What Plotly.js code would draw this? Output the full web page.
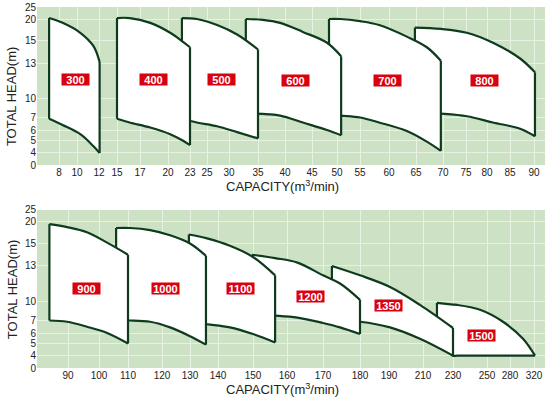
<!DOCTYPE html>
<html><head><meta charset="utf-8">
<script src="https://cdn.plot.ly/plotly-3.0.1.min.js"></script>
<style>html,body{margin:0;padding:0;background:#fff}#chart{width:550px;height:398px}</style>
</head><body><div id="chart"></div>
<script>
// ---- printed (non-uniform) axis ticks ----
const topCapTicks = [8,10,12,15,17,20,23,25,30,35,40,45,50,55,60,65,70,75,80,85,90];
const botCapTicks = [90,100,110,120,130,140,150,160,170,180,190,210,230,250,280,320];
const headTicks   = [0,4,5,6,7,10,13,15,20,25];
// scale definition: where each printed tick sits along its axis (axis units)
const topTickPos  = [22,40,62,80,103,131,153,170,192,221,248,275,300,323,352,379,406,429,450,473,497];
const botTickPos  = [31,62,91,125,153,181,216,250,286,323,352,386,416,450,473,497];
const headTickPos = [0,13,24.5,35,47.5,67,102,124.5,146,158];

// ---- pump ranges: capacity (m3/min), max head and min head (m) ----
const topModels = ['300','400','500','600','700','800'];
const topQ = [
  [6.9,8.4,10.3,11.5,12.1],
  [15,16.1,18.1,20.3,22,23],
  [21.9,23.8,27.3,31.4,35],
  [32.9,35.9,39.1,43.3,48,50.9],
  [48.4,50.7,55,58.3,63.3,67,69.6],
  [64.8,69.6,75.2,81.3,87.1,90.2]
];
const topHmax = [
  [20.4,19.1,16.8,14.5,13.1],
  [20.4,20.4,19.1,16.8,14.9,14.4],
  [20.4,20,18.6,16.4,14.2],
  [20,19.8,19.1,17,14.8,13.6],
  [20,20,19.5,18.6,15.9,14.4,13.2],
  [18,17.7,16.8,14.8,13.4,12.2]
];
const topHmin = [
  [6.9,6.4,5.6,4.5,3.7],
  [6.9,6.6,6.2,5.6,5.0,4.6],
  [6.9,6.6,6.3,5.8,5.2],
  [7.6,7.55,7.3,6.6,6.0,5.5],
  [7.5,7.3,7.0,6.6,5.9,4.9,4.1],
  [7.8,7.6,7.2,6.6,6.1,5.4]
];
const topLabelQ = [9.8,18.4,28.2,42,59.8,79.3];
const topLabelH = [11.55,11.55,11.55,11.5,11.5,11.5];

const botModels = ['900','1000','1100','1200','1350','1500'];
const botQ = [
  [84,89.7,96.1,102.8,110],
  [105.9,110.6,116.5,122.9,130,135.7],
  [129.6,136.1,143.4,150,156.5],
  [149.7,156.5,162.9,170,174.6,180],
  [172.4,180,190.6,208.2,230],
  [219.3,230,232.4,245.9,270.9,301.7,321.7]
];
const botHmax = [
  [19.5,18.8,17.6,15.2,14.0],
  [18.6,18.6,18.1,16.9,15,13.9],
  [17.1,16.2,14.8,13.8,12.2],
  [14.0,13.7,13.3,12.2,11.5,10.1],
  [13,12.2,11.2,9.4,6.4],
  [9.7,9.45,9.4,8.65,6.9,5.45,3.8]
];
const botHmin = [
  [7,6.9,6.5,6,5],
  [7,7,6.9,6.45,5.7,4.9],
  [6.9,6.7,6.45,5.9,5.1],
  [7.9,7.75,7.45,6.8,6.45,5.9],
  [7,6.9,6.45,5.45,3.8],
  [5.8,3.8,3.8,3.8,3.8,3.8,3.8]
];
const botLabelQ = [96.1,121.1,146.3,166.4,189.7,247];
const botLabelH = [11.1,11.1,11.1,10.4,9.25,5.8];

// ---- piecewise-linear printed scale ----
function piece(v, ticks, pos){
  let i = 0;
  if (v <= ticks[0]) i = 0;
  else if (v >= ticks[ticks.length-1]) i = ticks.length-2;
  else { while (!(v >= ticks[i] && v <= ticks[i+1])) i++; }
  const t = (v - ticks[i])/(ticks[i+1]-ticks[i]);
  return pos[i] + t*(pos[i+1]-pos[i]);
}
const mapTop = v => piece(v, topCapTicks, topTickPos);
const mapBot = v => piece(v, botCapTicks, botTickPos);
const mapH = v => piece(v, headTicks, headTickPos);

const EDGE = '#0e3b1d', FILL = '#ffffff', RED = '#d9000f';
const FONT = 'Liberation Sans, Arial, sans-serif';
const traces = [], annotations = [];

function addPanel(models, Q, Hmax, Hmin, LQ, LH, mapX, xa, ya){
  for (let k = models.length-1; k >= 0; k--){
    const xs = Q[k].map(mapX), hi = Hmax[k].map(mapH), lo = Hmin[k].map(mapH);
    const n = xs.length;
    traces.push({type:'scatter', mode:'lines', xaxis:xa, yaxis:ya, hoverinfo:'skip',
      x: xs.concat(xs.slice().reverse(), [xs[0]]),
      y: hi.concat(lo.slice().reverse(), [hi[0]]),
      fill:'toself', fillcolor:FILL, line:{width:0, color:FILL}});
    traces.push({type:'scatter', mode:'lines', xaxis:xa, yaxis:ya, hoverinfo:'skip',
      x: xs.concat([null, xs[n-1], xs[n-1], null], xs, [null, xs[0], xs[0]]),
      y: hi.concat([null, hi[n-1], lo[n-1], null], lo, [null, hi[0], lo[0]]),
      line:{color:EDGE, width:2.2, shape:'spline', smoothing:1}, connectgaps:false});
  }
  models.forEach((m,k)=>{
    annotations.push({xref:xa, yref:ya, x:mapX(LQ[k]), y:mapH(LH[k]), text:'<b>'+m+'</b>',
      showarrow:false, bgcolor:RED, width:27, height:11, borderpad:0,
      font:{family:FONT, size:11, color:'#ffffff'}});
  });
}
addPanel(topModels, topQ, topHmax, topHmin, topLabelQ, topLabelH, mapTop, 'x', 'y');
addPanel(botModels, botQ, botHmax, botHmin, botLabelQ, botLabelH, mapBot, 'x2', 'y2');

// axis titles
const ytxt = 'TOTAL HEAD(m)', xtxt = 'CAPACITY(m<sup>3</sup>/min)';
[[0.7507],[0.216]].forEach(([yy])=>annotations.push({xref:'paper', yref:'paper', x:-0.049, y:yy,
  text:ytxt, textangle:-90, showarrow:false, xanchor:'center', yanchor:'middle',
  font:{family:FONT, size:13, color:'#222'}}));
[[0.504],[-0.058]].forEach(([yy])=>annotations.push({xref:'paper', yref:'paper', x:0.484, y:yy,
  text:xtxt, showarrow:false, xanchor:'center', yanchor:'middle',
  font:{family:FONT, size:13, color:'#222'}}));

const GRID = '#e8f2e3';
function xax(ticks, mapX, anchor){
  return {domain:[0,1], range:[0,508], anchor:anchor, tickmode:'array',
    tickvals: ticks.map(mapX), ticktext: ticks.map(String),
    showgrid:true, gridcolor:GRID, gridwidth:1, zeroline:false, showline:false,
    ticks:'', tickfont:{family:FONT, size:10, color:'#222'}, fixedrange:true};
}
function yax(domain, anchor){
  return {domain:domain, range:[0,158], anchor:anchor, tickmode:'array',
    tickvals: headTicks.map(mapH), ticktext: headTicks.map(String),
    showgrid:true, gridcolor:GRID, gridwidth:1, zeroline:false, showline:false,
    ticks:'', tickfont:{family:FONT, size:10, color:'#222'}, fixedrange:true};
}
const layout = {
  width:550, height:398, margin:{l:37, r:5, t:7, b:30},
  paper_bgcolor:'#ffffff', plot_bgcolor:'#cde2c5', showlegend:false,
  xaxis: xax(topCapTicks, mapTop, 'y'),
  yaxis: yax([0.5623,1], 'x'),
  xaxis2: xax(botCapTicks, mapBot, 'y2'),
  yaxis2: yax([0,0.4377], 'x2'),
  annotations: annotations
};
Plotly.newPlot('chart', traces, layout, {displayModeBar:false, staticPlot:true});
</script></body></html>
